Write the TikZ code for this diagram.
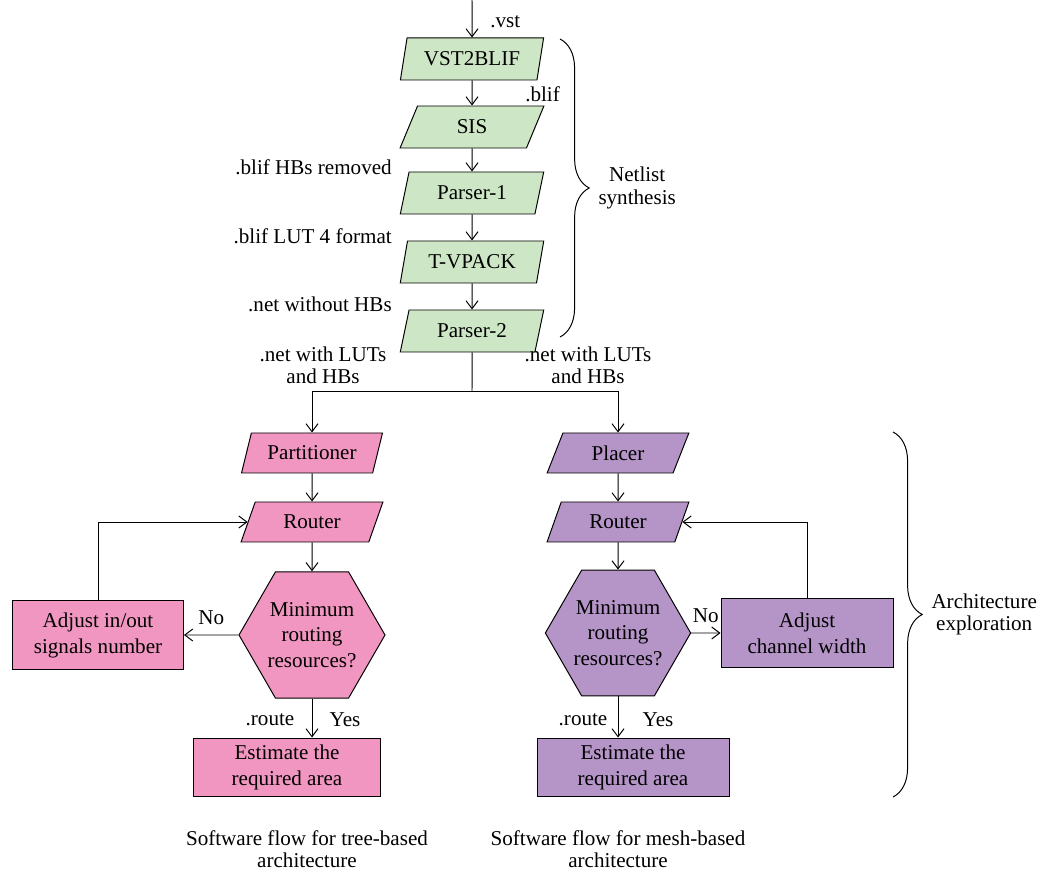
\documentclass[tikz,border=0pt]{standalone}
\usepackage{fontspec}
\setmainfont{Liberation Serif}
\usepackage{xcolor}
\usetikzlibrary{shapes.geometric,arrows.meta,decorations.pathreplacing}
\definecolor{synthgreen}{RGB}{205,230,197}
\definecolor{treepink}{RGB}{241,150,192}
\definecolor{meshpurple}{RGB}{181,148,199}
\tikzset{
  fltext/.style={font=\fontsize{15}{15.7}\selectfont, inner sep=0pt, align=center},
  flpar/.style={trapezium, trapezium stretches=true, draw=black, line width=0.7pt, fltext, minimum height=1.0cm, minimum width=3.55cm, trapezium left angle=63, trapezium right angle=117},
  flsynth/.style={flpar, fill=synthgreen, minimum width=3.6cm, minimum height=1.05cm, trapezium left angle=71, trapezium right angle=109},
  fltree/.style={flpar, fill=treepink},
  flmesh/.style={flpar, fill=meshpurple},
  flhex/.style={regular polygon, regular polygon sides=6, minimum size=3.65cm, draw=black, line width=0.7pt, fltext, font=\fontsize{15}{18}\selectfont},
  flbox/.style={rectangle, draw=black, line width=0.7pt, fltext, font=\fontsize{15}{18.5}\selectfont},
  flline/.style={draw=black, line width=0.7pt},
  flarrow/.style={flline, -{Straight Barb[length=2mm,width=3mm]}},
  flbrace/.style={draw=black, line width=0.7pt, decorate, decoration={brace, amplitude=0.73cm}},
}
\begin{document}
\begin{tikzpicture}
\useasboundingbox (0,0) rectangle (26.100,21.875);
\coordinate (top) at (11.800,21.875);
\node[flsynth] (vst) at (11.800,20.400) {VST2BLIF};
\node[flsynth] (sis) at (11.800,18.700) {SIS};
\node[flsynth] (parserone) at (11.800,17.050) {Parser-1};
\node[flsynth] (tvpack) at (11.800,15.325) {T-VPACK};
\node[flsynth] (parsertwo) at (11.800,13.600) {Parser-2};
\coordinate (split) at (11.800,12.100);
\node[fltext, anchor=west] (lvst) at (12.250,21.325) {.vst};
\node[fltext, anchor=west] (lblif) at (13.125,19.525) {.blif};
\node[fltext, anchor=east] (lremoved) at (9.800,17.700) {.blif HBs removed};
\node[fltext, anchor=east] (llut) at (9.800,15.975) {.blif LUT 4 format};
\node[fltext, anchor=east] (lnohb) at (9.800,14.275) {.net without HBs};
\node[fltext] (lwithl) at (8.075,12.750) {.net with LUTs\\and HBs};
\node[fltext] (lwithr) at (14.700,12.750) {.net with LUTs\\and HBs};
\draw[flarrow] (top) -- (vst);
\draw[flarrow] (vst) -- (sis);
\draw[flarrow] (sis) -- (parserone);
\draw[flarrow] (parserone) -- (tvpack);
\draw[flarrow] (tvpack) -- (parsertwo);
\draw[flline] (parsertwo) -- (split);
\draw[flbrace] (14.000,20.900) -- (14.000,13.450) node[fltext, midway, anchor=west, xshift=0.95cm] (lnetlist) {Netlist\\synthesis};

\node[fltree] (partitioner) at (7.800,10.550) {Partitioner};
\node[fltree] (routerl) at (7.800,8.825) {Router};
\node[flhex, fill=treepink] (hexl) at (7.800,6.000) {Minimum\\routing\\resources?};
\node[flbox, fill=treepink, minimum width=4.275cm, minimum height=1.725cm] (adjustl) at (2.450,6.000) {Adjust in/out\\signals number};
\node[flbox, fill=treepink, minimum width=4.675cm, minimum height=1.45cm] (estimatel) at (7.175,2.700) {Estimate the\\required area};
\draw[flarrow] (split) -| (partitioner.north);
\draw[flarrow] (partitioner) -- (routerl);
\draw[flarrow] (routerl) -- (hexl);
\draw[flarrow] (hexl.west) -- (adjustl.east) node[fltext, midway, above=0.25cm] (lnol) {No};
\draw[flarrow] (adjustl.north) |- (routerl.west);
\draw[flarrow] (hexl.south) -- (hexl.south |- estimatel.north);
\node[fltext] (lroutel) at (6.750,3.875) {.route};
\node[fltext] (lyesl) at (8.625,3.875) {Yes};

\node[flmesh] (placer) at (15.450,10.550) {Placer};
\node[flmesh] (routerr) at (15.450,8.825) {Router};
\node[flhex, fill=meshpurple, minimum size=3.55cm] (hexr) at (15.450,6.050) {Minimum\\routing\\resources?};
\node[flbox, fill=meshpurple, minimum width=4.3cm, minimum height=1.725cm] (adjustr) at (20.175,6.050) {Adjust\\channel width};
\node[flbox, fill=meshpurple, minimum width=4.8cm, minimum height=1.45cm] (estimater) at (15.825,2.700) {Estimate the\\required area};
\draw[flarrow] (split) -| (placer.north);
\draw[flarrow] (placer) -- (routerr);
\draw[flarrow] (routerr) -- (hexr);
\draw[flarrow] (hexr.east) -- (adjustr.west) node[fltext, midway, above=0.25cm] (lnor) {No};
\draw[flarrow] (adjustr.north) |- (routerr.east);
\draw[flarrow] (hexr.south) -- (hexr.south |- estimater.north);
\node[fltext] (lrouter) at (14.575,3.875) {.route};
\node[fltext] (lyesr) at (16.450,3.875) {Yes};
\draw[flbrace] (22.325,11.075) -- (22.325,1.950) node[fltext, midway, anchor=west, xshift=0.95cm] (larch) {Architecture\\exploration};

\node[fltext] (capl) at (7.675,0.650) {Software flow for tree-based\\architecture};
\node[fltext] (capr) at (15.450,0.650) {Software flow for mesh-based\\architecture};
\end{tikzpicture}
\end{document}
